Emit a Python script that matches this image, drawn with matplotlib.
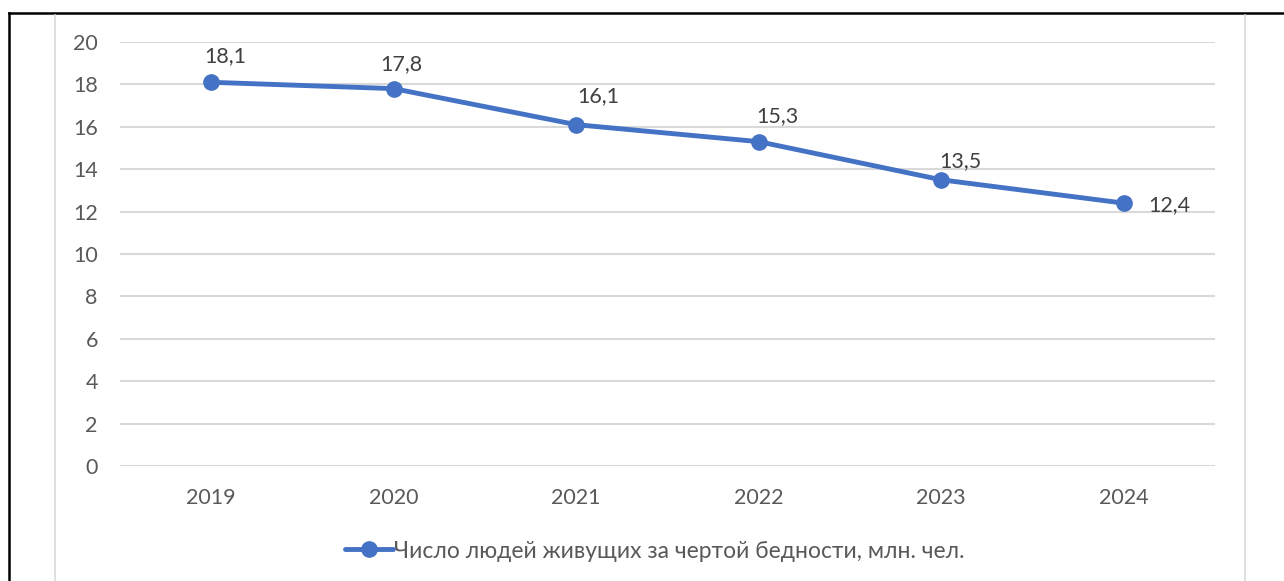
import matplotlib.pyplot as plt
from matplotlib.lines import Line2D

# Data
years = ["2019", "2020", "2021", "2022", "2023", "2024"]
people_mln = [18.1, 17.8, 16.1, 15.3, 13.5, 12.4]
value_labels = ["18,1", "17,8", "16,1", "15,3", "13,5", "12,4"]
series_name = "Число людей живущих за чертой бедности, млн. чел."

plt.rcParams["font.family"] = ["Lato", "DejaVu Sans"]

W, H = 1284, 581
fig = plt.figure(figsize=(W / 100, H / 100), dpi=100)
ax = fig.add_axes([120 / W, 1 - 466 / H, (1215 - 120) / W, (466 - 42) / H])

blue = "#4472C4"
grey_text = "#595959"
grid_col = "#D9D9D9"
fs = 15.5

x = list(range(len(years)))
line, = ax.plot(x, people_mln, color=blue, lw=3.5, marker="o", ms=11,
                label=series_name, solid_capstyle="round", zorder=3)

# label offsets in pixels (dx, dy) from each point
offsets = [(14, 26), (8, 25), (22, 29), (19, 26), (19, 19), (46, -2)]
for xi, yi, lab, (dx, dy) in zip(x, people_mln, value_labels, offsets):
    ax.annotate(lab, (xi, yi), xytext=(dx * 0.72, dy * 0.72), textcoords="offset points",
                ha="center", va="center", fontsize=fs, color="#404040")

ax.set_xlim(-0.5, len(years) - 0.5)
ax.set_ylim(0, 20)
ax.set_yticks(range(0, 21, 2))
ax.set_xticks(x)
ax.set_xticklabels(years)
ax.grid(axis="y", color=grid_col, lw=1.5)
ax.set_axisbelow(True)
for s in ax.spines.values():
    s.set_visible(False)
ax.tick_params(length=0, labelsize=fs, labelcolor=grey_text)
ax.tick_params(axis="y", pad=16)
ax.tick_params(axis="x", pad=16)

leg = fig.legend(handles=[line], loc="center", bbox_to_anchor=(655 / W, 1 - 551 / H),
                 frameon=False, fontsize=16.5, handlelength=2.1, handletextpad=0.05,
                 labelcolor=grey_text)

# outer frames
fig.add_artist(Line2D([9 / W, 1], [1 - 13 / H] * 2, color="black", lw=1.8))
fig.add_artist(Line2D([9 / W] * 2, [0, 1 - 13 / H], color="black", lw=1.8))
fig.add_artist(Line2D([55 / W] * 2, [0, 1 - 14.5 / H], color=grid_col, lw=1.2))
fig.add_artist(Line2D([1245 / W] * 2, [0, 1 - 14.5 / H], color=grid_col, lw=1.2))

fig.savefig("out.png", dpi=100)
